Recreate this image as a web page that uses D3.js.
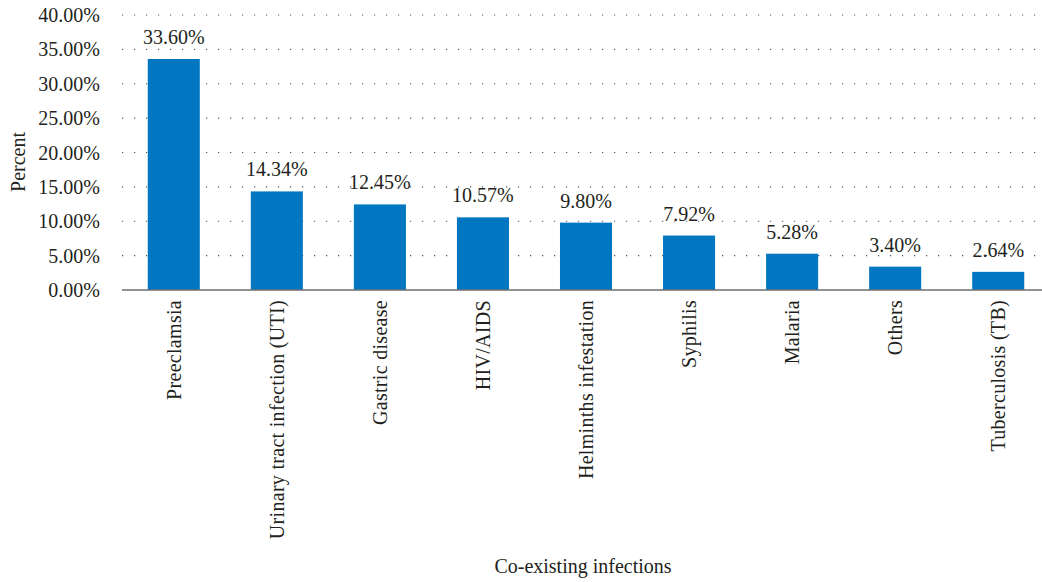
<!DOCTYPE html>
<html>
<head>
<meta charset="utf-8">
<script src="https://cdn.jsdelivr.net/npm/d3@7"></script>
<style>
  body { margin: 0; background: #fff; }
  svg { display: block; }
  text { font-family: "Liberation Serif", "DejaVu Serif", serif; fill: #231f20; }
</style>
</head>
<body>
<svg id="chart" width="1042" height="582"></svg>
<script>
// data
const categories = ['Preeclamsia', 'Urinary tract infection (UTI)', 'Gastric disease', 'HIV/AIDS',
  'Helminths infestation', 'Syphilis', 'Malaria', 'Others', 'Tuberculosis (TB)'];
const percents = [33.60, 14.34, 12.45, 10.57, 9.80, 7.92, 5.28, 3.40, 2.64];
const yTicks = [0, 5, 10, 15, 20, 25, 30, 35, 40];

const W = 1042, H = 582;
const m = { left: 122, right: 1040, top: 15, bottom: 290 };
const fs = 20;

const svg = d3.select('#chart');

const x = d3.scaleBand()
  .domain(categories)
  .range([m.left, m.right + 10])
  .paddingInner(0.495)
  .paddingOuter(0.25);

const y = d3.scaleLinear().domain([0, 40]).range([m.bottom, m.top]);

// dotted gridlines
svg.append('g')
  .selectAll('line')
  .data(yTicks.filter(d => d > 0))
  .join('line')
  .attr('x1', m.left).attr('x2', m.right - 4)
  .attr('y1', d => y(d)).attr('y2', d => y(d))
  .attr('stroke', '#555')
  .attr('stroke-width', 1.2)
  .attr('stroke-dasharray', '1.2 10.8');

// y tick labels
svg.append('g')
  .selectAll('text')
  .data(yTicks)
  .join('text')
  .attr('x', 100)
  .attr('y', d => y(d))
  .attr('dy', '0.35em')
  .attr('text-anchor', 'end')
  .attr('font-size', fs)
  .text(d => d.toFixed(2) + '%');

// bars
svg.append('g')
  .selectAll('rect')
  .data(percents)
  .join('rect')
  .attr('x', (d, i) => x(categories[i]))
  .attr('width', x.bandwidth())
  .attr('y', d => y(d))
  .attr('height', d => y(0) - y(d))
  .attr('fill', '#0077c0');

// value labels
svg.append('g')
  .selectAll('text')
  .data(percents)
  .join('text')
  .attr('x', (d, i) => x(categories[i]) + x.bandwidth() / 2)
  .attr('y', d => y(d) - 15)
  .attr('text-anchor', 'middle')
  .attr('font-size', fs)
  .text(d => d.toFixed(2) + '%');

// x axis baseline
svg.append('line')
  .attr('x1', m.left).attr('x2', W)
  .attr('y1', y(0)).attr('y2', y(0))
  .attr('stroke', '#6d6e71')
  .attr('stroke-width', 1.5);

// category labels, rotated
svg.append('g')
  .selectAll('text')
  .data(categories)
  .join('text')
  .attr('transform', d => `translate(${x(d) + x.bandwidth() / 2},${y(0) + 10}) rotate(-90)`)
  .attr('dy', '0.35em')
  .attr('text-anchor', 'end')
  .attr('font-size', fs)
  .attr('letter-spacing', 0.3)
  .text(d => d);

// axis titles
svg.append('text')
  .attr('transform', `translate(25,${162}) rotate(-90)`)
  .attr('text-anchor', 'middle')
  .attr('font-size', fs)
  .text('Percent');

svg.append('text')
  .attr('x', 583).attr('y', 573)
  .attr('text-anchor', 'middle')
  .attr('font-size', fs)
  .text('Co-existing infections');
</script>
</body>
</html>
